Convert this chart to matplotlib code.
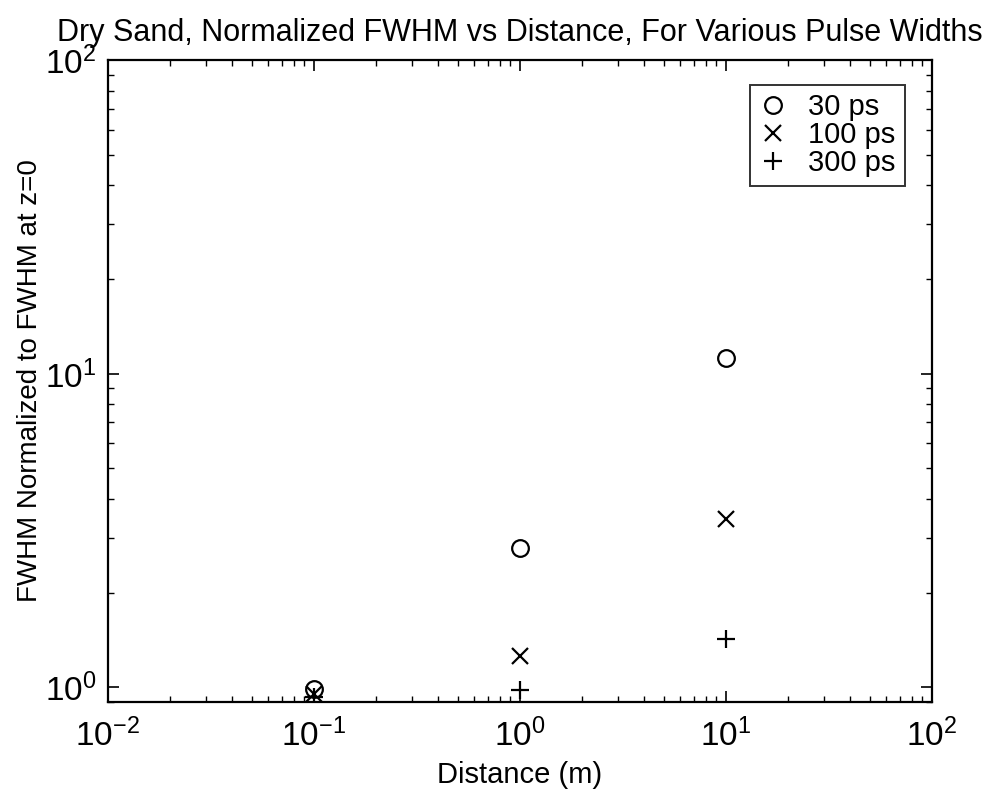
import matplotlib.pyplot as plt
import numpy as np

plt.rcParams['font.family'] = ['Liberation Sans', 'DejaVu Sans']
plt.rcParams['mathtext.fontset'] = 'custom'
plt.rcParams['mathtext.rm'] = 'Liberation Sans'

distance = [0.1, 1.0, 10.0]
fwhm_30ps = [0.99, 2.79, 11.2]
fwhm_100ps = [0.95, 1.26, 3.45]
fwhm_300ps = [0.93, 0.98, 1.43]
labels = ['30 ps', '100 ps', '300 ps']

fig = plt.figure(figsize=(9.87, 7.93), dpi=100)
ax = fig.add_axes([0.109, 0.115, 0.835, 0.809])

# three pulse widths, marker only
ax.plot(distance, fwhm_30ps, 'o', mfc='none', mec='black', ms=12, mew=1.6, label=labels[0])
ax.plot(distance, fwhm_100ps, 'x', color='black', ms=12, mew=1.6, label=labels[1])
ax.plot(distance, fwhm_300ps, '+', color='black', ms=13, mew=1.6, label=labels[2])

ax.set_xscale('log')
ax.set_yscale('log')
ax.set_xlim(1e-2, 1e2)
ax.set_ylim(0.9, 100)
ax.set_xticks([1e-2, 1e-1, 1e0, 1e1, 1e2])
ax.set_yticks([1e0, 1e1, 1e2])

ax.tick_params(which='both', direction='in', top=True, right=True, labelsize=24)
ax.tick_params(which='major', length=8, width=1.2, pad=8)
ax.tick_params(axis='x', which='major', pad=12)
ax.tick_params(which='minor', length=4, width=1.0)
for s in ax.spines.values():
    s.set_linewidth(1.6)

ax.set_xlabel('Distance (m)', fontsize=21, labelpad=6)
ax.set_ylabel('FWHM Normalized to FWHM at z=0', fontsize=20, labelpad=1)
ax.set_title('Dry Sand, Normalized FWHM vs Distance, For Various Pulse Widths', fontsize=22, pad=14)

leg = ax.legend(loc='upper right', bbox_to_anchor=(0.967, 0.962), fontsize=21, frameon=True,
                fancybox=False, edgecolor='black', labelspacing=0.0, handletextpad=0.7,
                handlelength=1.0, borderpad=0.3, borderaxespad=0)
leg.get_frame().set_linewidth(1.4)

fig.savefig('out.png', dpi=100)
